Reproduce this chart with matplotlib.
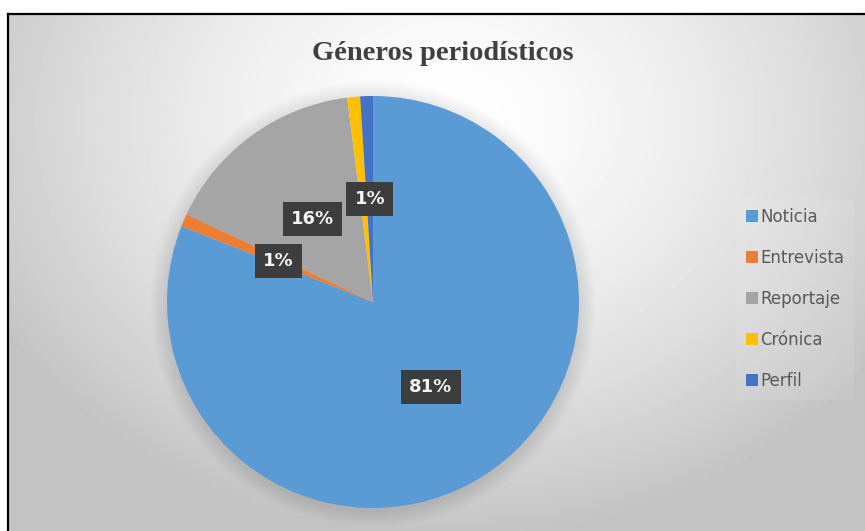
import numpy as np
import matplotlib
matplotlib.use("Agg")
import matplotlib.pyplot as plt
from matplotlib.lines import Line2D

# datos del gráfico
categorias = ["Noticia", "Entrevista", "Reportaje", "Crónica", "Perfil"]
porcentajes = [81, 1, 16, 1, 1]
colores = ["#5B9BD5", "#ED7D31", "#A5A5A5", "#FFC000", "#4472C4"]
etiqueta_visible = [True, True, True, False, True]
titulo = "Géneros periodísticos"

W, H = 865, 531
fig = plt.figure(figsize=(W / 100, H / 100), dpi=100)
fig.patch.set_facecolor("white")

# fondo con degradado radial (estilo Excel)
bg = fig.add_axes([8 / W, 0, 1 - 8 / W, (H - 14) / H], zorder=0)
xx, yy = np.meshgrid(np.arange(8, W), np.arange(14, H))
t = np.sqrt(((xx - 450) / 520) ** 2 + ((yy - 120) / 420) ** 2)
val = (255 - 60 * np.clip(t, 0, 1) ** 1.5) / 255
bg.imshow(val, cmap="gray", vmin=0, vmax=1, aspect="auto",
          interpolation="bilinear")
bg.axis("off")

# borde superior e izquierdo
fig.add_artist(Line2D([8 / W, 1], [1 - 14 / H, 1 - 14 / H],
                      transform=fig.transFigure, color="black", lw=1.6))
fig.add_artist(Line2D([8 / W, 8 / W], [0, 1 - 14 / H],
                      transform=fig.transFigure, color="black", lw=1.6))

# pastel
cx, cy, r = 373, 302, 206
ax = fig.add_axes([(cx - r) / W, (H - cy - r) / H, 2 * r / W, 2 * r / H], zorder=2)

# sombra suave alrededor del pastel
for k in range(8):
    ax.add_patch(plt.Circle((0, -0.01), 1 + 0.01 * (k + 1), color="black",
                            alpha=0.011, lw=0, zorder=0, clip_on=False))

wedges, texts, autotexts = ax.pie(
    porcentajes, colors=colores, startangle=90, counterclock=False,
    autopct=lambda p: f"{p:.0f}%", pctdistance=0.5,
    wedgeprops=dict(linewidth=0),
    textprops=dict(color="white", fontsize=13, fontweight="bold",
                   family="DejaVu Sans"),
)
for txt, vis in zip(autotexts, etiqueta_visible):
    txt.set_visible(vis)
    txt.set_bbox(dict(boxstyle="square,pad=0.45", facecolor="#3d3d3d",
                      edgecolor="none"))
    txt.set_color("#f4f4f4")
    txt.set_zorder(5)
ax.set_xlim(-1, 1)
ax.set_ylim(-1, 1)
ax.set_aspect("auto")
ax.axis("off")

fig.text(443 / W, 1 - 53 / H, titulo, ha="center", va="center",
         fontsize=20.5, fontweight="bold", family="Liberation Serif",
         color="#404040")

handles = [plt.Rectangle((0, 0), 1, 1, facecolor=c, edgecolor="none")
           for c in colores]
leg = fig.legend(handles, categorias, loc="center left",
                 bbox_to_anchor=(736 / W, 1 - 299 / H),
                 frameon=True, labelspacing=1.38,
                 handlelength=0.72, handleheight=0.72, handletextpad=0.12,
                 borderpad=0.6, borderaxespad=0,
                 prop=dict(family="DejaVu Sans", size=12))
leg.get_frame().set_facecolor("white")
leg.get_frame().set_alpha(0.08)
leg.get_frame().set_edgecolor("none")
for t_ in leg.get_texts():
    t_.set_color("#595959")

fig.savefig("out.png", dpi=100)
